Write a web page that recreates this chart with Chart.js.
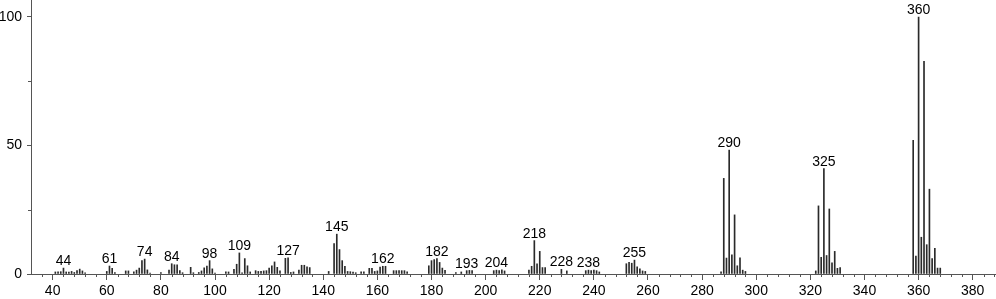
<!DOCTYPE html>
<html>
<head>
<meta charset="utf-8">
<script src="https://cdn.jsdelivr.net/npm/chart.js@4.4.1/dist/chart.umd.min.js"></script>
<style>
  html, body { margin: 0; padding: 0; background: #fff; }
  #wrap { width: 996px; height: 299px; }
</style>
</head>
<body>
<div id="wrap"><canvas id="spectrum" width="996" height="299"></canvas></div>
<script>
// m/z values and relative intensities
const masses = [
  41, 42, 43, 44, 45, 46, 47, 48, 49, 50, 51, 52,
  60, 61, 62, 63, 67, 68, 70, 71, 72, 73, 74, 75, 76,
  80, 83, 84, 85, 86, 87, 88, 91, 92, 94, 95, 96, 97, 98, 99, 100,
  104, 105, 107, 108, 109, 110, 111, 112, 113, 115, 116, 117, 118, 119,
  120, 121, 122, 123, 124, 126, 127, 128, 129, 131, 132, 133, 134, 135,
  142, 144, 145, 146, 147, 148, 149, 150, 151, 152, 154, 155,
  157, 158, 159, 160, 161, 162, 163, 166, 167, 168, 169, 170, 171,
  179, 180, 181, 182, 183, 184, 185, 189, 191, 193, 194, 195,
  203, 204, 205, 206, 207, 216, 217, 218, 219, 220, 221, 222,
  228, 230, 237, 238, 239, 240, 241, 242,
  252, 253, 254, 255, 256, 257, 258, 259,
  287, 288, 289, 290, 291, 292, 293, 294, 295, 296,
  322, 323, 324, 325, 326, 327, 328, 329, 330, 331,
  358, 359, 360, 361, 362, 363, 364, 365, 366, 367, 368
];
const intensities = [
  0.8, 0.8, 0.9, 2.3, 0.8, 0.7, 1.0, 0.6, 1.3, 1.9, 1.2, 0.5,
  1.0, 3.1, 2.2, 0.6, 1.2, 1.2, 0.8, 1.5, 2.3, 5.2, 5.8, 1.6, 0.4,
  0.6, 1.5, 4.0, 3.6, 3.6, 1.3, 0.5, 2.6, 0.5, 0.6, 1.2, 2.4, 3.1, 5.2, 2.0, 0.4,
  0.8, 0.8, 1.8, 3.8, 8.2, 0.5, 6.0, 3.2, 0.8, 1.3, 1.0, 1.0, 1.2, 1.3,
  2.3, 3.2, 4.7, 2.6, 1.2, 6.1, 6.3, 0.6, 0.8, 1.5, 3.4, 3.4, 2.8, 2.5,
  1.0, 11.8, 15.5, 9.5, 5.2, 3.0, 1.0, 0.9, 0.7, 0.5, 0.8, 0.8,
  2.2, 2.2, 1.0, 1.2, 2.7, 3.0, 3.0, 1.3, 1.3, 1.3, 1.3, 1.3, 0.8,
  3.2, 5.2, 5.6, 6.0, 4.5, 2.3, 1.4, 0.6, 0.8, 1.3, 1.4, 1.3,
  1.3, 1.5, 1.3, 1.6, 1.2, 1.5, 3.0, 13.0, 4.0, 8.8, 2.5, 2.5,
  1.8, 1.2, 1.3, 1.5, 1.3, 1.5, 1.3, 0.8,
  4.0, 4.5, 4.2, 5.4, 2.8, 2.0, 1.2, 1.0,
  0.8, 37.2, 6.2, 48.2, 7.5, 23.0, 3.2, 6.3, 1.5, 1.0,
  1.2, 26.5, 6.5, 41.0, 7.2, 25.3, 4.3, 8.8, 2.2, 2.5,
  52.0, 7.0, 100, 14.3, 82.7, 11.4, 33.0, 6.0, 10.0, 2.3, 2.3
];
// peaks that carry a label
const labelledPeaks = [44, 61, 74, 84, 98, 109, 127, 145, 162, 182, 193, 204, 218, 228, 238, 255, 290, 325, 360];

const xMin = 32, xMax = 388.6;
const yMin = 0, yMax = 106.6;
const axisColor = '#555';
const barColor = '#2a2a2a';
const fontFamily = '"Liberation Sans", Arial, sans-serif';

// small ticks between the labelled ones, and the peak labels
const extras = {
  id: 'extras',
  afterDraw(chart) {
    const ctx = chart.ctx;
    const x = chart.scales.x, y = chart.scales.y;
    ctx.save();
    ctx.strokeStyle = axisColor;
    ctx.lineWidth = 1;
    ctx.beginPath();
    for (let m = 36; m <= xMax; m += 4) {
      if (m % 20 === 0) continue;
      const px = Math.round(x.getPixelForValue(m)) + 0.5;
      ctx.moveTo(px, y.bottom);
      ctx.lineTo(px, y.bottom + 3);
    }
    [25, 75].forEach(v => {
      const py = Math.round(y.getPixelForValue(v)) + 0.5;
      ctx.moveTo(x.left, py);
      ctx.lineTo(x.left - 3, py);
    });
    ctx.stroke();

    ctx.fillStyle = '#000';
    ctx.font = '14px ' + fontFamily;
    ctx.textAlign = 'center';
    ctx.textBaseline = 'alphabetic';
    labelledPeaks.forEach(m => {
      const i = masses.indexOf(m);
      if (i < 0) return;
      ctx.fillText(String(m), x.getPixelForValue(m), y.getPixelForValue(intensities[i]) - 3);
    });
    ctx.restore();
  }
};

new Chart(document.getElementById('spectrum'), {
  type: 'bar',
  data: {
    datasets: [{
      data: masses.map((m, i) => ({ x: m, y: intensities[i] })),
      backgroundColor: barColor,
      borderWidth: 0,
      barThickness: 1
    }]
  },
  options: {
    responsive: false,
    animation: false,
    layout: { padding: 0 },
    plugins: { legend: { display: false }, tooltip: { enabled: false } },
    scales: {
      x: {
        type: 'linear',
        min: xMin,
        max: xMax,
        offset: false,
        afterFit: s => { s.height = 25; s.paddingLeft = 0; s.paddingRight = 0; },
        border: { display: true, color: axisColor, width: 1 },
        grid: { offset: false, drawOnChartArea: false, tickLength: 6, tickColor: axisColor },
        ticks: {
          stepSize: 20,
          includeBounds: false,
          maxRotation: 0,
          autoSkip: false,
          padding: 3,
          color: '#000',
          font: { family: fontFamily, size: 14 }
        }
      },
      y: {
        min: yMin,
        max: yMax,
        afterFit: s => { s.width = 31; s.paddingTop = 0; s.paddingBottom = 0; },
        border: { display: true, color: axisColor, width: 1 },
        grid: { drawOnChartArea: false, tickLength: 4, tickColor: axisColor },
        ticks: {
          stepSize: 50,
          includeBounds: false,
          padding: 5,
          color: '#000',
          font: { family: fontFamily, size: 14 }
        }
      }
    }
  },
  plugins: [extras]
});
</script>
</body>
</html>
